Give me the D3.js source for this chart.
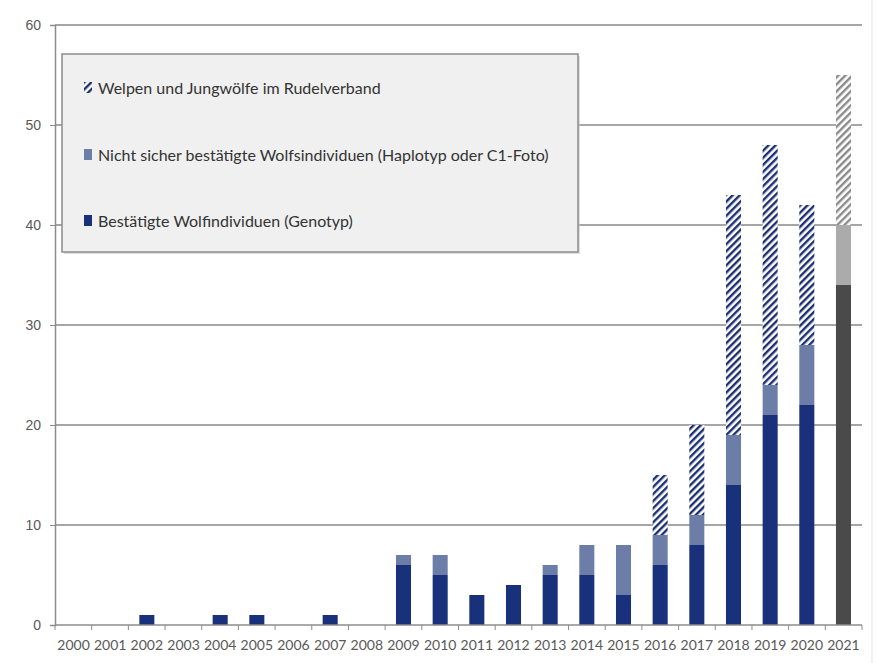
<!DOCTYPE html>
<html>
<head>
<meta charset="utf-8">
<script src="https://cdn.jsdelivr.net/npm/d3@7"></script>
<style>
body { margin: 0; background: #fff; }
svg { font-family: Lato, "Open Sans", sans-serif; }
</style>
</head>
<body>
<svg id="chart" width="877" height="663"></svg>
<script>
var years = ["2000","2001","2002","2003","2004","2005","2006","2007","2008","2009","2010",
             "2011","2012","2013","2014","2015","2016","2017","2018","2019","2020","2021"];
var confirmed   = [0,0,1,0,1,1,0,1,0,6,5,3,4,5,5,3,6,8,14,21,22,34];
var unconfirmed = [0,0,0,0,0,0,0,0,0,1,2,0,0,1,3,5,3,3,5,3,6,6];
var pups        = [0,0,0,0,0,0,0,0,0,0,0,0,0,0,0,0,6,9,24,24,14,15];
var yTicks = [0,10,20,30,40,50,60];
var legendLabels = [
  "Welpen und Jungwölfe im Rudelverband",
  "Nicht sicher bestätigte Wolfsindividuen (Haplotyp oder C1-Foto)",
  "Bestätigte Wolfindividuen (Genotyp)"
];

var svg = d3.select("#chart");
var plotLeft = 55, plotRight = 862, plotTop = 25, plotBottom = 625;

var x = d3.scaleBand().domain(years).range([plotLeft, plotRight]).paddingInner(0.59).paddingOuter(0.3);
var y = d3.scaleLinear().domain([0, 60]).range([plotBottom, plotTop]);

// hatch patterns
var defs = svg.append("defs");
function hatch(id, col) {
  var p = defs.append("pattern").attr("id", id)
    .attr("patternUnits", "userSpaceOnUse")
    .attr("width", 5).attr("height", 5)
    .attr("patternTransform", "rotate(45)");
  p.append("rect").attr("width", 5).attr("height", 5).attr("fill", "#fff");
  p.append("rect").attr("x", 0).attr("width", 2.4).attr("height", 5).attr("fill", col);
}
hatch("hatchBlue", "#1b2f72");
hatch("hatchGray", "#8a8a8a");

// faint outer frame at right
svg.append("line")
  .attr("x1", 872).attr("x2", 872).attr("y1", 0).attr("y2", 663)
  .attr("stroke", "#ececec").attr("stroke-width", 1.5);

// grid lines
svg.append("g").selectAll("line")
  .data(yTicks.slice(1))
  .join("line")
  .attr("x1", plotLeft).attr("x2", plotRight)
  .attr("y1", function(d){ return y(d); })
  .attr("y2", function(d){ return y(d); })
  .attr("stroke", "#a6a6a6")
  .attr("stroke-width", 2);

// y axis
var yAxis = svg.append("g")
  .attr("transform", "translate(" + plotLeft + ",0)")
  .call(d3.axisLeft(y).tickValues(yTicks).tickSize(5).tickPadding(9));
yAxis.select(".domain").attr("stroke", "#8c8c8c").attr("stroke-width", 1.5);
yAxis.selectAll(".tick line").attr("stroke", "#8c8c8c");
yAxis.selectAll("text").attr("fill", "#595959").style("font-size", "14px");

// stacked bars
var stackData = years.map(function(yr, i) {
  return { year: yr, confirmed: confirmed[i], unconfirmed: unconfirmed[i], pups: pups[i] };
});
var keys = ["confirmed", "unconfirmed", "pups"];
var series = d3.stack().keys(keys)(stackData);

function barFill(key, yr) {
  var last = yr === "2021";
  if (key === "confirmed") return last ? "#4a4a4a" : "#19307a";
  if (key === "unconfirmed") return last ? "#ababab" : "#6c7ea8";
  return last ? "url(#hatchGray)" : "url(#hatchBlue)";
}

svg.append("g").selectAll("g")
  .data(series)
  .join("g")
  .each(function(s) {
    d3.select(this).selectAll("rect")
      .data(s.filter(function(d){ return d[1] - d[0] > 0; }))
      .join("rect")
      .attr("x", function(d){ return x(d.data.year); })
      .attr("width", x.bandwidth())
      .attr("y", function(d){ return y(d[1]); })
      .attr("height", function(d){ return y(d[0]) - y(d[1]); })
      .attr("fill", function(d){ return barFill(s.key, d.data.year); });
  });

// x axis with ticks between categories
var xg = svg.append("g");
xg.append("line")
  .attr("x1", plotLeft).attr("x2", plotRight)
  .attr("y1", plotBottom).attr("y2", plotBottom)
  .attr("stroke", "#8c8c8c").attr("stroke-width", 1.5);
var step = (plotRight - plotLeft) / years.length;
xg.selectAll(".xt")
  .data(d3.range(years.length + 1))
  .join("line")
  .attr("class", "xt")
  .attr("x1", function(i){ return plotLeft + i * step; })
  .attr("x2", function(i){ return plotLeft + i * step; })
  .attr("y1", plotBottom).attr("y2", plotBottom + 5)
  .attr("stroke", "#8c8c8c");
xg.selectAll("text")
  .data(years)
  .join("text")
  .attr("x", function(d){ return x(d) + x.bandwidth() / 2; })
  .attr("y", plotBottom + 25)
  .attr("text-anchor", "middle")
  .attr("fill", "#595959")
  .style("font-size", "14px")
  .text(function(d){ return d; });

// legend
var lg = svg.append("g");
lg.append("rect")
  .attr("x", 64).attr("y", 56).attr("width", 516).attr("height", 198)
  .attr("fill", "#c8c8c8").attr("opacity", 0.6);
lg.append("rect")
  .attr("x", 62).attr("y", 54).attr("width", 516).attr("height", 198)
  .attr("fill", "#f0f0f0").attr("stroke", "#8c8c8c").attr("stroke-width", 1.5);

var legendFill = ["url(#hatchBlue)", "#6c7ea8", "#19307a"];
var legendY = [88, 155, 221];
var items = lg.selectAll(".item")
  .data(legendLabels)
  .join("g")
  .attr("class", "item")
  .attr("transform", function(d, i){ return "translate(84," + legendY[i] + ")"; });
items.append("rect")
  .attr("x", 0).attr("y", -6).attr("width", 8).attr("height", 11)
  .attr("fill", function(d, i){ return legendFill[i]; });
items.append("text")
  .attr("x", 14).attr("y", 0)
  .attr("dy", "0.35em")
  .attr("fill", "#333")
  .style("font-size", "16px")
  .text(function(d){ return d; });
</script>
</body>
</html>
